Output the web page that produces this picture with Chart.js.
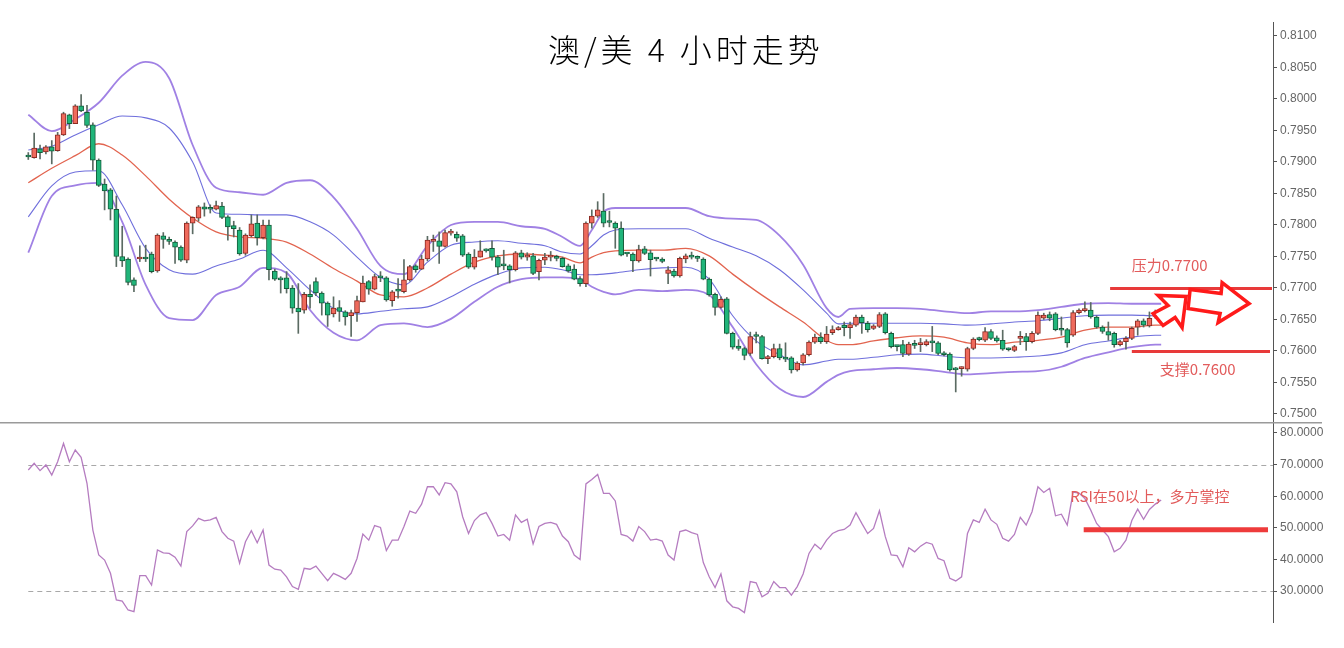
<!DOCTYPE html>
<html>
<head>
<meta charset="utf-8">
<script src="https://cdn.jsdelivr.net/npm/chart.js@4.4.0/dist/chart.umd.min.js"></script>
<style>
  html, body { margin: 0; padding: 0; background: #fff; }
  #wrap { position: relative; width: 1344px; height: 648px; overflow: hidden; background: #fff; }
  #price { position: absolute; left: 0; top: 0; }
  #rsi { position: absolute; left: 0; top: 422px; }
  #title { position: absolute; left: 548px; top: 32px; font-family: "Noto Sans CJK SC", sans-serif; font-weight: 300;
           font-size: 32px; line-height: 1; letter-spacing: 4px; color: #000; white-space: pre; }
</style>
</head>
<body>
<div id="wrap">
  <canvas id="price" width="1344" height="422"></canvas>
  <canvas id="rsi" width="1344" height="226"></canvas>
  <div id="title">澳/美 4 小时走势</div>
</div>
<script>
// AUD/USD 4h candles
const opens = [
  .7911,.7907,.7921,.7916,.7924,.7918,.7943,.7975,.7961,.7989,
  .7979,.7959,.7903,.7865,.7856,.7825,.7750,.7746,.7713,.7746,
  .7747,.7754,.7727,.7783,.7776,.7773,.7765,.7744,.7803,.7811,
  .7829,.7826,.7825,.7830,.7813,.7799,.7792,.7755,.7783,.7803,
  .7780,.7800,.7727,.7714,.7716,.7700,.7668,.7665,.7690,.7710,
  .7692,.7676,.7659,.7669,.7662,.7656,.7661,.7678,.7710,.7698,
  .7718,.7716,.7680,.7696,.7694,.7713,.7735,.7730,.7746,.7774,
  .7775,.7766,.7787,.7785,.7783,.7754,.7733,.7749,.7760,.7763,
  .7749,.7736,.7735,.7729,.7756,.7749,.7751,.7726,.7744,.7749,
  .7748,.7747,.7735,.7730,.7715,.7707,.7803,.7814,.7822,.7805,
  .7803,.7795,.7755,.7754,.7743,.7762,.7756,.7747,.7746,.7723,
  .7727,.7719,.7746,.7750,.7748,.7746,.7714,.7690,.7669,.7683,
  .7628,.7608,.7604,.7596,.7624,.7623,.7588,.7591,.7604,.7590,
  .7589,.7570,.7581,.7594,.7614,.7622,.7615,.7629,.7634,.7641,
  .7637,.7641,.7654,.7644,.7636,.7639,.7659,.7628,.7608,.7610,
  .7595,.7612,.7610,.7610,.7615,.7613,.7597,.7595,.7572,.7572,
  .7571,.7604,.7619,.7617,.7631,.7621,.7617,.7603,.7601,.7620,
  .7623,.7615,.7628,.7652,.7658,.7659,.7635,.7634,.7625,.7661,
  .7664,.7665,.7654,.7638,.7631,.7628,.7610,.7615,.7620,.7638,
  .7648,.7640,.7655,.7658
];
const highs = [
  .7915,.7946,.7927,.7926,.7934,.7947,.7979,.7976,.7991,.8007,
  .7990,.7962,.7905,.7873,.7858,.7846,.7798,.7748,.7716,.7767,
  .7768,.7757,.7786,.7788,.7781,.7775,.7767,.7805,.7813,.7831,
  .7835,.7832,.7838,.7836,.7815,.7806,.7796,.7786,.7816,.7816,
  .7808,.7808,.7730,.7718,.7726,.7704,.7707,.7693,.7705,.7716,
  .7694,.7678,.7686,.7680,.7664,.7665,.7687,.7719,.7712,.7722,
  .7726,.7718,.7696,.7715,.7745,.7736,.7737,.7752,.7782,.7784,
  .7789,.7792,.7793,.7789,.7785,.7756,.7761,.7775,.7762,.7775,
  .7752,.7760,.7737,.7758,.7760,.7756,.7755,.7746,.7755,.7758,
  .7752,.7749,.7738,.7737,.7718,.7805,.7824,.7837,.7850,.7822,
  .7805,.7805,.7756,.7756,.7768,.7766,.7760,.7748,.7748,.7734,
  .7730,.7749,.7754,.7757,.7751,.7748,.7716,.7692,.7686,.7685,
  .7630,.7618,.7606,.7630,.7630,.7625,.7593,.7611,.7611,.7613,
  .7591,.7583,.7596,.7616,.7627,.7629,.7639,.7640,.7639,.7646,
  .7646,.7657,.7657,.7647,.7642,.7661,.7661,.7630,.7609,.7617,
  .7614,.7617,.7620,.7618,.7639,.7615,.7599,.7597,.7574,.7575,
  .7606,.7621,.7622,.7637,.7634,.7624,.7633,.7605,.7609,.7631,
  .7628,.7631,.7662,.7660,.7662,.7661,.7654,.7636,.7664,.7667,
  .7678,.7677,.7656,.7640,.7646,.7630,.7617,.7623,.7638,.7650,
  .7651,.7662,.7665,.7661
];
const lows = [
  .7904,.7906,.7905,.7913,.7897,.7917,.7942,.7953,.7961,.7980,
  .7955,.7887,.7861,.7824,.7808,.7734,.7734,.7705,.7694,.7742,
  .7742,.7724,.7725,.7763,.7769,.7739,.7742,.7740,.7786,.7806,
  .7814,.7819,.7824,.7810,.7776,.7781,.7752,.7752,.7781,.7768,
  .7778,.7713,.7712,.7692,.7692,.7660,.7628,.7660,.7668,.7688,
  .7657,.7639,.7654,.7647,.7641,.7623,.7647,.7678,.7690,.7697,
  .7710,.7679,.7671,.7684,.7692,.7711,.7725,.7729,.7743,.7758,
  .7739,.7765,.7784,.7774,.7750,.7731,.7730,.7749,.7757,.7744,
  .7721,.7729,.7708,.7727,.7746,.7744,.7721,.7713,.7737,.7743,
  .7743,.7733,.7725,.7713,.7703,.7702,.7795,.7812,.7797,.7797,
  .7763,.7751,.7750,.7726,.7741,.7753,.7719,.7743,.7740,.7707,
  .7717,.7717,.7740,.7746,.7742,.7713,.7687,.7657,.7668,.7627,
  .7603,.7601,.7586,.7593,.7613,.7587,.7580,.7589,.7586,.7583,
  .7565,.7568,.7578,.7592,.7612,.7612,.7612,.7626,.7633,.7624,
  .7620,.7639,.7628,.7630,.7634,.7637,.7627,.7605,.7600,.7591,
  .7593,.7604,.7599,.7608,.7599,.7594,.7592,.7568,.7535,.7560,
  .7568,.7602,.7616,.7615,.7618,.7614,.7601,.7600,.7599,.7610,
  .7601,.7613,.7626,.7650,.7648,.7632,.7625,.7606,.7623,.7659,
  .7662,.7652,.7636,.7628,.7617,.7606,.7608,.7603,.7618,.7625,
  .7638,.7638,.7652,.7656
];
const closes = [
  .7908,.7922,.7915,.7924,.7917,.7943,.7977,.7961,.7989,.7981,
  .7958,.7903,.7863,.7854,.7825,.7750,.7743,.7709,.7704,.7747,
  .7746,.7726,.7784,.7777,.7774,.7765,.7744,.7803,.7812,.7829,
  .7825,.7825,.7831,.7812,.7797,.7794,.7754,.7784,.7802,.7780,
  .7800,.7729,.7714,.7713,.7699,.7668,.7662,.7690,.7686,.7692,
  .7676,.7657,.7668,.7663,.7654,.7661,.7680,.7708,.7698,.7718,
  .7716,.7681,.7694,.7695,.7713,.7734,.7729,.7746,.7776,.7776,
  .7766,.7788,.7789,.7779,.7752,.7733,.7749,.7759,.7759,.7749,
  .7733,.7735,.7729,.7756,.7749,.7752,.7723,.7744,.7749,.7750,
  .7747,.7734,.7727,.7714,.7707,.7803,.7814,.7824,.7803,.7804,
  .7795,.7752,.7754,.7743,.7761,.7755,.7745,.7746,.7742,.7729,
  .7719,.7747,.7751,.7749,.7747,.7714,.7689,.7669,.7682,.7628,
  .7606,.7604,.7593,.7623,.7623,.7588,.7591,.7604,.7589,.7587,
  .7570,.7581,.7594,.7614,.7622,.7615,.7627,.7634,.7636,.7637,
  .7642,.7654,.7645,.7634,.7640,.7658,.7629,.7607,.7607,.7596,
  .7611,.7609,.7612,.7615,.7613,.7596,.7594,.7570,.7570,.7574,
  .7604,.7619,.7618,.7631,.7620,.7616,.7603,.7602,.7607,.7621,
  .7615,.7628,.7657,.7657,.7652,.7634,.7633,.7613,.7661,.7665,
  .7666,.7654,.7638,.7631,.7625,.7610,.7615,.7620,.7636,.7648,
  .7641,.7652,.7657,.7659
];

// Bollinger bands, read at these candle numbers
const bandAt = [0,4,8,12,16,20,24,28,32,36,40,44,48,52,56,60,64,68,72,76,80,84,88,91,94,96,98,
  100,104,108,112,116,120,124,128,132,136,138,140,144,148,152,156,160,164,168,172,176,180,184,188,192,193];
const upperOuter = [.7975,.7949,.7968,.7994,.8037,.8059,.8033,.7927,.7859,.7852,.7848,.7867,.7871,.7844,.7794,.7735,.7722,.7767,.7800,.7805,.7805,.7798,.7794,.7781,.7767,.7792,.7821,
  .7827,.7827,.7827,.7827,.7814,.7810,.7808,.7783,.7737,.7668,.7654,.7667,.7668,.7668,.7667,.7663,.7660,.7663,.7663,.7665,.7670,.7675,.7676,.7675,.7675,.7675];
const upperInner = [.7919,.7925,.7943,.7959,.7973,.7970,.7954,.7900,.7819,.7817,.7816,.7816,.7805,.7784,.7749,.7717,.7705,.7741,.7768,.7773,.7775,.7771,.7767,.7757,.7754,.7767,.7784,
  .7792,.7794,.7794,.7794,.7779,.7765,.7751,.7729,.7697,.7660,.7643,.7644,.7644,.7644,.7644,.7643,.7641,.7643,.7646,.7648,.7652,.7656,.7657,.7657,.7656,.7656];
const middleBand = [.7867,.7890,.7910,.7929,.7911,.7878,.7841,.7811,.7789,.7781,.7779,.7773,.7754,.7731,.7711,.7689,.7686,.7700,.7722,.7741,.7751,.7754,.7752,.7749,.7740,.7749,.7756,
  .7759,.7760,.7760,.7763,.7751,.7722,.7695,.7670,.7646,.7617,.7610,.7610,.7616,.7621,.7624,.7622,.7613,.7610,.7614,.7617,.7622,.7633,.7638,.7638,.7641,.7641];
const lowerInner = [.7813,.7862,.7884,.7886,.7832,.7763,.7729,.7722,.7735,.7746,.7760,.7732,.7697,.7668,.7659,.7663,.7667,.7670,.7686,.7706,.7722,.7732,.7733,.7729,.7721,.7721,.7722,
  .7724,.7729,.7732,.7733,.7714,.7656,.7616,.7594,.7578,.7584,.7587,.7587,.7590,.7594,.7595,.7592,.7589,.7589,.7590,.7592,.7597,.7610,.7616,.7622,.7625,.7625];
const lowerOuter = [.7756,.7846,.7863,.7867,.7805,.7705,.7652,.7649,.7689,.7702,.7732,.7724,.7665,.7629,.7617,.7641,.7644,.7638,.7651,.7678,.7702,.7714,.7717,.7717,.7714,.7702,.7694,
  .7690,.7697,.7695,.7697,.7689,.7638,.7579,.7540,.7527,.7551,.7562,.7568,.7571,.7573,.7571,.7567,.7563,.7565,.7567,.7568,.7575,.7589,.7598,.7606,.7610,.7610];

// RSI, one value per candle
const rsiValues = [
  68.3,70.4,68.1,69.9,66.7,70.9,76.7,70.9,74.6,72.3,
  64.1,49.3,41.4,39.8,35.6,27.2,26.8,24.0,23.5,34.9,
  34.9,31.9,43.0,42.1,41.9,40.7,37.9,48.8,50.6,53.0,
  52.2,52.5,53.3,48.8,46.7,45.8,38.8,45.6,49.1,45.3,
  49.3,38.2,36.9,36.6,34.5,31.4,30.5,37.2,36.9,37.9,
  35.6,33.3,35.6,34.7,33.7,35.6,40.3,48.0,46.1,50.7,
  50.1,42.8,46.1,46.1,50.4,55.3,54.6,57.5,63.0,63.0,
  60.4,64.3,63.9,61.4,53.5,48.2,52.3,54.1,54.8,51.4,
  47.4,47.9,46.1,54.1,51.7,52.7,44.9,50.4,51.4,51.7,
  51.1,47.4,45.6,41.4,40.0,63.9,65.3,66.9,60.9,60.9,
  58.5,47.9,47.4,45.8,50.4,48.8,46.1,46.4,45.8,41.4,
  39.8,48.8,49.3,48.5,47.9,39.0,34.5,31.1,35.4,26.9,
  25.0,24.5,23.2,33.0,32.6,28.2,29.3,33.0,31.1,31.1,
  28.7,31.4,35.4,41.9,44.8,43.2,46.1,48.2,49.1,49.5,
  50.9,54.8,51.4,48.2,49.8,55.4,47.2,41.4,41.2,37.7,
  43.7,42.4,44.2,45.4,44.8,40.3,39.6,34.0,33.2,34.5,
  48.2,52.5,51.7,55.9,52.5,51.1,46.7,45.8,47.9,53.3,
  50.9,55.1,63.0,61.2,62.5,53.8,54.3,50.9,61.3,61.0,
  59.3,55.6,51.4,49.3,47.2,42.4,43.5,46.1,52.3,55.9,
  52.7,55.8,57.5,58.8
];

const priceTicks = [0.7500,0.7550,0.7600,0.7650,0.7700,0.7750,0.7800,0.7850,0.7900,0.7950,0.8000,0.8050,0.8100];
const rsiTicks = [30,40,50,60,70,80];
const rsiBands = [30,70];

const resistLevel = 0.7700, supportLevel = 0.7600, rsiMid = 50;

// x range in candle numbers, so candle 0 sits a little in from the left edge
const X_MIN = -4.82, X_MAX = 212.05;

Chart.defaults.font.family = '"Liberation Sans", Arial, sans-serif';
Chart.defaults.animation = false;

const idx = opens.map((o, i) => i);
const up = opens.map((o, i) => closes[i] >= o);

function rightAxis(min, max, ticks, digits) {
  return {
    position: 'right', min: min, max: max,
    afterBuildTicks: s => { s.ticks = ticks.map(v => ({ value: v })); },
    afterFit: s => { s.width = 71; s.paddingTop = 0; s.paddingBottom = 0; },
    grid: { drawOnChartArea: false, drawTicks: true, tickLength: 4, color: '#555' },
    border: { display: true, color: '#555', width: 1 },
    ticks: { color: '#666', padding: 3, autoSkip: false, font: { size: 12 }, callback: v => v.toFixed(digits) }
  };
}

const xAxis = { type: 'linear', min: X_MIN, max: X_MAX, offset: false, display: false };

function band(arr, color, width) {
  return {
    type: 'line', data: bandAt.map((x, k) => ({ x: x, y: arr[k] })),
    borderColor: color, borderWidth: width, pointRadius: 0, fill: false,
    cubicInterpolationMode: 'monotone', order: 3
  };
}

// hollow arrows, offsets from where the resistance line starts
const arrowTilt = [[43,25],[58,17],[48,7],[76,8],[72,39],[65,29],[53,37]];
const arrowFlat = [[80,1],[111,5],[112,-6],[139,15],[108,34],[110,25],[78,20]];

const priceNotes = {
  id: 'priceNotes',
  afterDatasetsDraw(chart) {
    const { ctx, chartArea: a, scales: { x, y } } = chart;
    const rY = Math.round(y.getPixelForValue(resistLevel)) + 0.5;
    const sY = Math.round(y.getPixelForValue(supportLevel)) + 0.5;
    const rX = x.getPixelForValue(184.3), sX = x.getPixelForValue(188);
    ctx.save();
    ctx.strokeStyle = '#e83a3a';
    ctx.lineWidth = 3;
    ctx.beginPath();
    ctx.moveTo(rX, rY); ctx.lineTo(a.right - 1, rY);
    ctx.moveTo(sX, sY); ctx.lineTo(a.right - 3, sY);
    ctx.stroke();

    ctx.lineWidth = 3.5;
    ctx.strokeStyle = '#ff1a1a';
    ctx.fillStyle = '#fff';
    ctx.lineJoin = 'miter';
    [arrowTilt, arrowFlat].forEach(poly => {
      ctx.beginPath();
      poly.forEach((p, k) => k ? ctx.lineTo(rX + p[0], rY + p[1]) : ctx.moveTo(rX + p[0], rY + p[1]));
      ctx.closePath();
      ctx.fill();
      ctx.stroke();
    });

    ctx.fillStyle = '#e25c5c';
    ctx.font = '15px "Noto Sans CJK SC", sans-serif';
    ctx.textBaseline = 'middle';
    ctx.fillText('压力0.7700', sX, rY - 23);
    ctx.fillText('支撑0.7600', sX + 28, sY + 18);
    ctx.restore();
  }
};

new Chart(document.getElementById('price'), {
  type: 'bar',
  data: {
    datasets: [
      {
        type: 'bar', data: idx.map(i => ({ x: i, y: [opens[i], closes[i]] })),
        backgroundColor: up.map(u => u ? '#ef6a5c' : '#20b57a'),
        borderColor: up.map(u => u ? '#8a2a22' : '#135c3a'),
        borderWidth: 1, borderSkipped: false, barThickness: 5, minBarLength: 2, grouped: false, order: 1
      },
      {
        type: 'bar', data: idx.map(i => ({ x: i, y: [lows[i], highs[i]] })),
        backgroundColor: '#5b6b63', barThickness: 1, grouped: false, order: 2
      },
      band(upperOuter, 'rgba(150,115,225,0.9)', 1.8),
      band(upperInner, '#6f6fdc', 1.1),
      band(middleBand, '#e2644f', 1.3),
      band(lowerInner, '#6f6fdc', 1.1),
      band(lowerOuter, 'rgba(150,115,225,0.9)', 1.8)
    ]
  },
  options: {
    responsive: false,
    layout: { autoPadding: false, padding: { top: 22, bottom: 0, left: 0, right: 0 } },
    plugins: { legend: { display: false }, tooltip: { enabled: false } },
    scales: {
      x: xAxis,
      y: Object.assign(rightAxis(0.748730, 0.812222, priceTicks, 4), { beginAtZero: false })
    }
  },
  plugins: [priceNotes]
});

const rsiNotes = {
  id: 'rsiNotes',
  beforeDatasetsDraw(chart) {
    const { ctx, chartArea: a, scales: { x, y } } = chart;
    ctx.save();
    ctx.strokeStyle = '#a8a8a8';
    ctx.lineWidth = 1.2;
    ctx.setLineDash([5, 4]);
    rsiBands.forEach(v => {
      const py = Math.round(y.getPixelForValue(v)) + 0.5;
      ctx.beginPath();
      ctx.moveTo(x.getPixelForValue(0), py);
      ctx.lineTo(a.right, py);
      ctx.stroke();
    });
    ctx.restore();
  },
  afterDatasetsDraw(chart) {
    const { ctx, chartArea: a, scales: { x, y } } = chart;
    const py = y.getPixelForValue(rsiMid) + 2;
    ctx.save();
    ctx.strokeStyle = '#ee3b3b';
    ctx.lineWidth = 5;
    ctx.beginPath();
    ctx.moveTo(x.getPixelForValue(179.8), py);
    ctx.lineTo(a.right - 5, py);
    ctx.stroke();
    ctx.fillStyle = '#e25c5c';
    ctx.font = '15px "Noto Sans CJK SC", sans-serif';
    ctx.textBaseline = 'middle';
    ctx.fillText('RSI在50以上，多方掌控', x.getPixelForValue(177.5), py - 34);
    ctx.restore();
  },
  afterDraw(chart) {
    const ctx = chart.ctx;
    ctx.save();
    ctx.strokeStyle = '#9a9a9a';
    ctx.lineWidth = 1.5;
    ctx.beginPath();
    ctx.moveTo(0, 0.75);
    ctx.lineTo(1322, 0.75);
    ctx.stroke();
    ctx.restore();
  }
};

new Chart(document.getElementById('rsi'), {
  type: 'line',
  data: {
    datasets: [{
      data: rsiValues.map((v, i) => ({ x: i, y: v })),
      borderColor: '#b57cc0', borderWidth: 1.3, pointRadius: 0, tension: 0, fill: false
    }]
  },
  options: {
    responsive: false,
    layout: { padding: { top: 0, bottom: 26, left: 0, right: 0 } },
    plugins: { legend: { display: false }, tooltip: { enabled: false } },
    scales: {
      x: xAxis,
      y: rightAxis(20.2, 83.48, rsiTicks, 4)
    }
  },
  plugins: [rsiNotes]
});
</script>
</body>
</html>
